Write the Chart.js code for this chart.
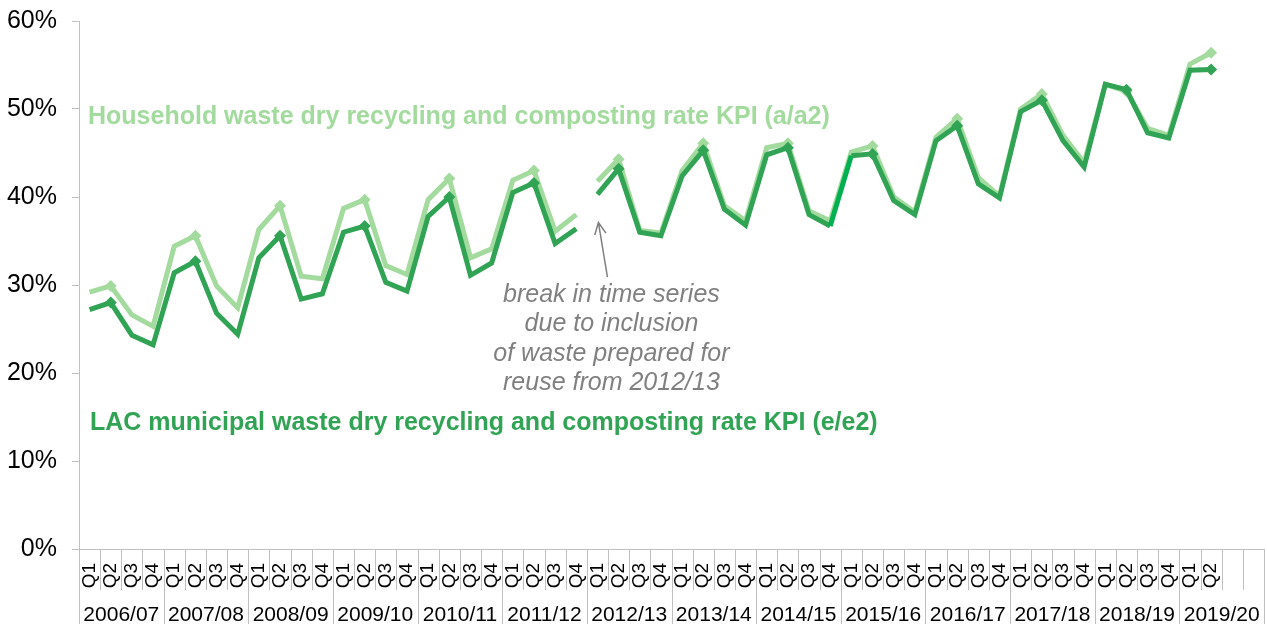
<!DOCTYPE html>
<html>
<head>
<meta charset="utf-8">
<script src="https://cdn.jsdelivr.net/npm/chart.js@4"></script>
<style>
  body { margin: 0; background: #fff; }
  #wrap { width: 1267px; height: 624px; }
</style>
</head>
<body>
<div id="wrap"><canvas id="kpiChart" width="1267" height="624"></canvas></div>
<script>
const years = ["2006/07", "2007/08", "2008/09", "2009/10", "2010/11", "2011/12", "2012/13",
               "2013/14", "2014/15", "2015/16", "2016/17", "2017/18", "2018/19", "2019/20"];
const quarterNames = ["Q1", "Q2", "Q3", "Q4"];
const lastYearQuarters = 2; // 2019/20 only has Q1 and Q2

// household waste dry recycling and composting rate (a/a2), %
const household = [
  29.2, 29.9, 26.6, 25.3,
  34.4, 35.6, 29.9, 27.4,
  36.3, 39.0, 31.0, 30.7,
  38.7, 39.7, 32.2, 31.2,
  39.7, 42.1, 33.1, 34.1,
  41.9, 43.0, 36.1, 38.0,
  41.8, 44.3, 36.2, 35.9,
  43.0, 46.1, 39.0, 37.3,
  45.6, 46.1, 38.4, 37.3,
  45.1, 45.8, 40.0, 38.3,
  46.8, 48.9, 42.2, 40.1,
  50.0, 51.7, 47.0, 43.9,
  52.8, 52.0, 47.8, 47.0,
  55.1, 56.4, null, null
];

// LAC municipal waste dry recycling and composting rate (e/e2), %
const lacMunicipal = [
  27.2, 28.0, 24.3, 23.2,
  31.4, 32.7, 26.8, 24.4,
  33.1, 35.6, 28.4, 29.0,
  36.0, 36.7, 30.3, 29.3,
  37.8, 40.0, 31.1, 32.5,
  40.5, 41.6, 34.7, 36.4,
  40.3, 43.2, 36.0, 35.6,
  42.4, 45.3, 38.6, 36.8,
  44.8, 45.6, 38.0, 36.7,
  44.7, 44.9, 39.6, 38.0,
  46.4, 48.1, 41.5, 39.9,
  49.7, 51.0, 46.4, 43.4,
  52.8, 52.2, 47.3, 46.7,
  54.4, 54.5, null, null
];

const yTicks = [0, 10, 20, 30, 40, 50, 60];
const breakAfter = 23; // 2011/12 Q4 -> 2012/13 Q1 not joined
const noteLines = ["break in time series", "due to inclusion", "of waste prepared for", "reuse from 2012/13"];

const LIGHT = "#a3da9d";
const DARK = "#31a354";
const FONT = "'Liberation Sans', Arial, sans-serif";

const labels = [];
const quarterTicks = [];
years.forEach((yr, yi) => {
    quarterNames.forEach((q, qi) => {
        labels.push(yr + " " + q);
        const shown = yi < years.length - 1 || qi < lastYearQuarters;
        quarterTicks.push(shown ? q : "");
    });
});

const markerRadius = ctx => (ctx.dataIndex % 4 === 1 ? 6 : 0);
const hideBreak = ctx => (ctx.p0DataIndex === breakAfter ? "rgba(0,0,0,0)" : undefined);

// multi level category axis, series captions and the note
const axisAndNotes = {
    id: "axisAndNotes",
    afterDraw(chart) {
        const c = chart.ctx;
        const x = chart.scales.x;
        const y = chart.scales.y;
        const area = chart.chartArea;
        const half = (x.getPixelForValue(1) - x.getPixelForValue(0)) / 2;
        const bottom = area.bottom;
        const qBottom = bottom + 41;
        const canvasBottom = chart.height;

        c.save();
        c.strokeStyle = "#bfbfbf";
        c.lineWidth = 1;
        c.beginPath();
        c.moveTo(area.left, bottom + 0.5);
        c.lineTo(area.right, bottom + 0.5);
        for (let i = 0; i <= labels.length; i++) {
            const px = Math.round(x.getPixelForValue(i) - half) + 0.5;
            const isYear = i % 4 === 0;
            c.moveTo(px, bottom);
            c.lineTo(px, isYear ? canvasBottom : qBottom);
        }
        c.stroke();

        c.fillStyle = "#000";
        c.font = "19px " + FONT;
        c.textAlign = "right";
        c.textBaseline = "middle";
        quarterTicks.forEach((q, i) => {
            if (!q) return;
            c.save();
            c.translate(x.getPixelForValue(i), bottom + 14);
            c.rotate(-Math.PI / 2);
            c.fillText(q, 0, 0);
            c.restore();
        });

        c.font = "21px " + FONT;
        c.textAlign = "center";
        years.forEach((yr, yi) => {
            const mid = (x.getPixelForValue(yi * 4) + x.getPixelForValue(yi * 4 + 3)) / 2;
            c.fillText(yr, mid, bottom + 66);
        });

        // series captions
        c.textAlign = "left";
        c.font = "bold 25px " + FONT;
        c.fillStyle = LIGHT;
        c.fillText("Household waste dry recycling and composting rate KPI (a/a2)", area.left + 9, y.getPixelForValue(49.1));
        c.fillStyle = DARK;
        c.fillText("LAC municipal waste dry recycling and composting rate KPI (e/e2)", area.left + 11, y.getPixelForValue(14.3));

        // break note with arrow
        const tipX = x.getPixelForValue(breakAfter + 1) + 1;
        const tipY = y.getPixelForValue(37.1);
        const baseX = tipX + 9;
        const baseY = y.getPixelForValue(30.9);
        c.strokeStyle = "#808080";
        c.lineWidth = 1.5;
        c.beginPath();
        c.moveTo(baseX, baseY);
        c.lineTo(tipX, tipY);
        const ang = Math.atan2(tipY - baseY, tipX - baseX);
        const head = 13;
        c.moveTo(tipX - head * Math.cos(ang - 0.45), tipY - head * Math.sin(ang - 0.45));
        c.lineTo(tipX, tipY);
        c.lineTo(tipX - head * Math.cos(ang + 0.45), tipY - head * Math.sin(ang + 0.45));
        c.stroke();

        c.fillStyle = "#808080";
        c.font = "italic 25px " + FONT;
        c.textAlign = "center";
        const noteX = baseX + 4;
        noteLines.forEach((line, i) => {
            c.fillText(line, noteX, baseY + 18 + i * 29.3);
        });
        c.restore();
    }
};

new Chart(document.getElementById("kpiChart"), {
    type: "line",
    data: {
        labels: labels,
        datasets: [
            {
                label: "LAC municipal waste dry recycling and composting rate KPI (e/e2)",
                data: lacMunicipal,
                borderColor: DARK,
                backgroundColor: DARK,
                borderWidth: 5,
                tension: 0,
                pointStyle: "rectRot",
                pointRadius: markerRadius,
                pointHoverRadius: markerRadius,
                pointBorderWidth: 0,
                segment: {
                    borderColor: ctx => ctx.p0DataIndex === breakAfter ? "rgba(0,0,0,0)"
                        : (ctx.p0DataIndex === 35 ? "#00b050" : undefined)
                }
            },
            {
                label: "Household waste dry recycling and composting rate KPI (a/a2)",
                data: household,
                borderColor: LIGHT,
                backgroundColor: LIGHT,
                borderWidth: 5,
                tension: 0,
                pointStyle: "rectRot",
                pointRadius: markerRadius,
                pointHoverRadius: markerRadius,
                pointBorderWidth: 0,
                segment: { borderColor: hideBreak }
            }
        ]
    },
    options: {
        responsive: false,
        animation: false,
        devicePixelRatio: 1,
        layout: { padding: { top: 21, right: 3, left: 0, bottom: 0 } },
        plugins: {
            legend: { display: false },
            tooltip: { enabled: false }
        },
        scales: {
            x: {
                type: "category",
                offset: true,
                ticks: { display: false },
                grid: { display: false },
                border: { display: false },
                afterFit: s => { s.height = 75; }
            },
            y: {
                min: 0,
                max: 60,
                afterBuildTicks: s => { s.ticks = yTicks.map(v => ({ value: v })); },
                ticks: {
                    callback: v => v + "%",
                    color: "#000",
                    font: { family: FONT, size: 25 },
                    padding: 15
                },
                grid: {
                    drawOnChartArea: false,
                    tickLength: 7,
                    color: "#bfbfbf"
                },
                border: { color: "#bfbfbf" },
                afterFit: s => {
                    s.width = 79;
                    s.paddingTop = 0;
                    s.paddingBottom = 0;
                }
            }
        }
    },
    plugins: [axisAndNotes]
});
</script>
</body>
</html>
